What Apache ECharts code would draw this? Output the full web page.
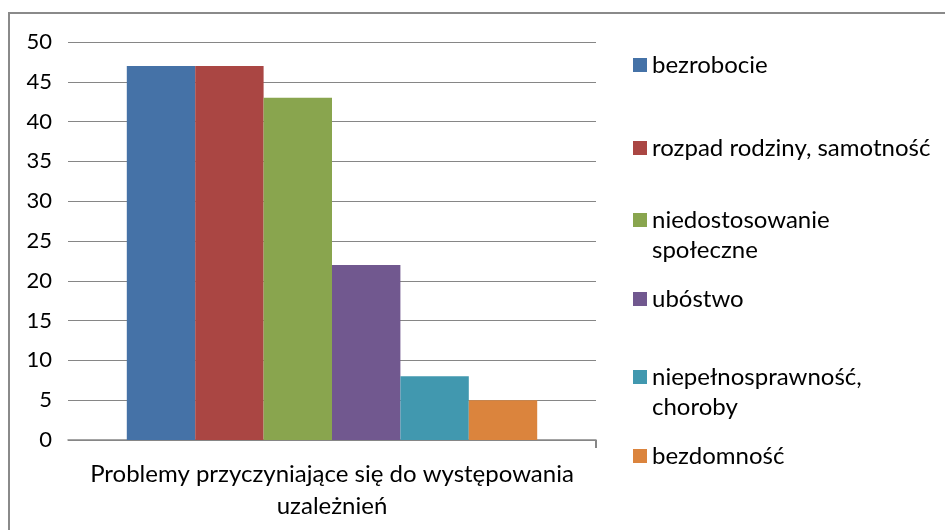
<!DOCTYPE html>
<html>
<head>
<meta charset="utf-8">
<script src="https://cdn.jsdelivr.net/npm/echarts@6/dist/echarts.min.js"></script>
<style>html,body{margin:0;padding:0;background:#fff;}#c{width:945px;height:530px;}</style>
</head>
<body>
<div id="c"></div>
<script>
var categories = ['Problemy przyczyniające się do występowania\nuzależnień'];
var seriesNames = ['bezrobocie', 'rozpad rodziny, samotność', 'niedostosowanie', 'ubóstwo', 'niepełnosprawność,', 'bezdomność'];
var seriesSecondLines = ['', '', 'społeczne', '', 'choroby', ''];
var seriesValues = [47, 47, 43, 22, 8, 5];
var seriesColors = ['#4572A7', '#AA4643', '#89A54E', '#71588F', '#4198AF', '#DB843D'];
var yTicks = { min: 0, max: 50, interval: 5 };

var FONT = 'Lato';
var legendCenters = [65, 148, 220, 299, 377, 456];

var chart = echarts.init(document.getElementById('c'));
var legends = seriesNames.map(function (n, i) {
  return {
    data: [n], left: 628, top: legendCenters[i] - 17, orient: 'vertical',
    itemWidth: 14, itemHeight: 14, icon: 'rect', selectedMode: false,
    textStyle: { fontFamily: FONT, fontSize: 24, color: '#000' }
  };
});
var graphics = [
  { type: 'polyline', shape: { points: [[9, 540], [9, 13], [950, 13]] }, style: { stroke: '#8a8a8a', lineWidth: 2, fill: null }, silent: true },
  { type: 'line', shape: { x1: 596, y1: 440, x2: 596, y2: 448 }, style: { stroke: '#868686', lineWidth: 2 }, silent: true }
];
seriesSecondLines.forEach(function (t, i) {
  if (t) graphics.push({ type: 'text', left: 652, top: legendCenters[i] + 18, style: { text: t, font: '24px ' + FONT, fill: '#000' }, silent: true });
});

chart.setOption({
  animation: false,
  backgroundColor: '#fff',
  grid: { left: 68, top: 42, right: 349, bottom: 90, containLabel: false },
  legend: legends,
  graphic: graphics,
  xAxis: {
    type: 'category', data: categories,
    axisLine: { lineStyle: { color: '#868686', width: 1.5 } },
    axisTick: { show: false },
    axisLabel: { fontFamily: FONT, fontSize: 24, color: '#000', margin: 18, lineHeight: 32 }
  },
  yAxis: {
    type: 'value', min: yTicks.min, max: yTicks.max, interval: yTicks.interval,
    axisLine: { show: false }, axisTick: { show: false },
    splitLine: { lineStyle: { color: '#868686', width: 1 } },
    axisLabel: { fontFamily: FONT, fontSize: 22, color: '#000', margin: 16 }
  },
  series: seriesNames.map(function (n, i) {
    return {
      name: n, type: 'bar', data: [seriesValues[i]], barWidth: 68.4, barGap: '0%',
      itemStyle: { color: seriesColors[i] }
    };
  })
});
</script>
</body>
</html>
